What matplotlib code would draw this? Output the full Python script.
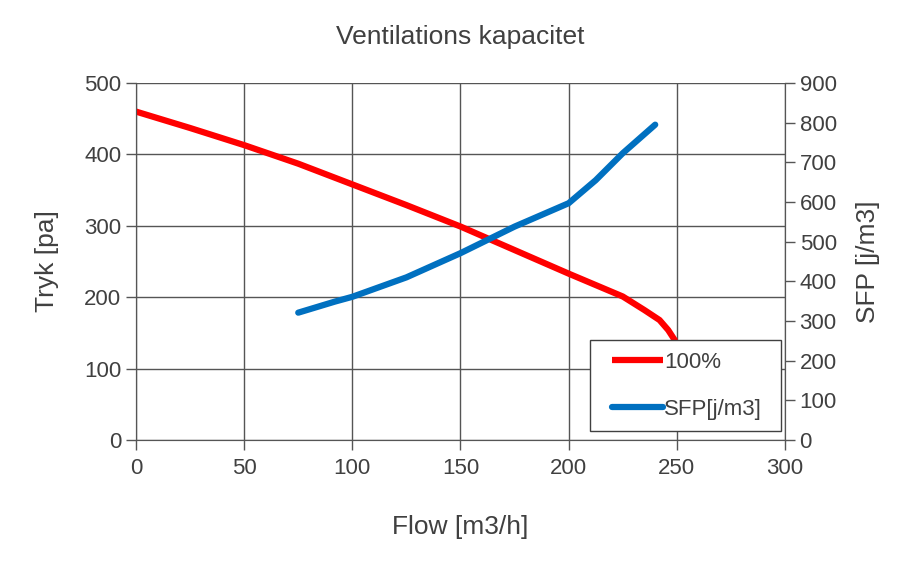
import matplotlib
matplotlib.use("Agg")
import matplotlib.pyplot as plt
from matplotlib.patches import Rectangle

flow_red = [0, 25, 50, 75, 100, 125, 150, 175, 200, 225, 235, 242, 246, 249, 250, 251]
tryk_red = [460, 437, 413, 387, 358, 329, 299, 266, 233, 201, 182, 168, 154, 140, 125, 60]

flow_blue = [75, 92, 100, 125, 150, 175, 200, 212.5, 225, 240]
sfp_blue = [321, 349, 361, 410, 471, 538, 597, 655, 723, 795]

plt.rcParams['font.family'] = ['Liberation Sans', 'DejaVu Sans']
txt = '#404040'
grid = '#555555'

fig = plt.figure(figsize=(9.09, 5.64), dpi=100)
ax = fig.add_axes([0.1496, 0.2199, 0.7140, 0.6329])
ax2 = ax.twinx()

ax.plot(flow_red, tryk_red, color='#ff0000', lw=4.5, solid_capstyle='butt',
        solid_joinstyle='round', label='100%', zorder=3)
ax2.plot(flow_blue, sfp_blue, color='#0070c0', lw=4.5, solid_capstyle='round',
         solid_joinstyle='round', label='SFP[j/m3]', zorder=3)

ax.set_xlim(0, 300)
ax.set_ylim(0, 500)
ax2.set_ylim(0, 900)
ax.set_xticks(range(0, 301, 50))
ax.set_yticks(range(0, 501, 100))
ax2.set_yticks(range(0, 901, 100))

ax.grid(True, color=grid, lw=1)
for a in (ax, ax2):
    for s in a.spines.values():
        s.set_color(grid)
    a.tick_params(colors=grid, labelcolor=txt, labelsize=16, length=7, width=1, direction='out')
ax.spines['top'].set_visible(False)
ax2.spines['top'].set_visible(False)
ax.spines['bottom'].set_color('#999999')
ax.tick_params(axis='x', pad=6)

ax.set_xlabel('Flow [m3/h]', fontsize=19, color=txt, labelpad=26)
ax.set_ylabel('Tryk [pa]', fontsize=19, color=txt, labelpad=18)
ax2.set_ylabel('SFP [j/m3]', fontsize=19, color=txt, labelpad=14)
ax.set_title('Ventilations kapacitet', fontsize=19, color=txt, pad=28)

# legend frame
ax2.add_patch(Rectangle((0.6995, 0.025), 0.294, 0.255, transform=ax2.transAxes,
                        facecolor='white', edgecolor='#404040', lw=1, zorder=9, clip_on=False))

h1, l1 = ax.get_legend_handles_labels()
h2, l2 = ax2.get_legend_handles_labels()
leg = ax2.legend(h1 + h2, l1 + l2, loc='center left', bbox_to_anchor=(0.7334, 0.151),
                 borderaxespad=0, fontsize=16, frameon=False,
                 handlelength=2.3, handletextpad=0.05, labelspacing=1.17, borderpad=0)
leg.set_zorder(10)
for t in leg.get_texts():
    t.set_color(txt)

fig.savefig('out.png', dpi=100)
